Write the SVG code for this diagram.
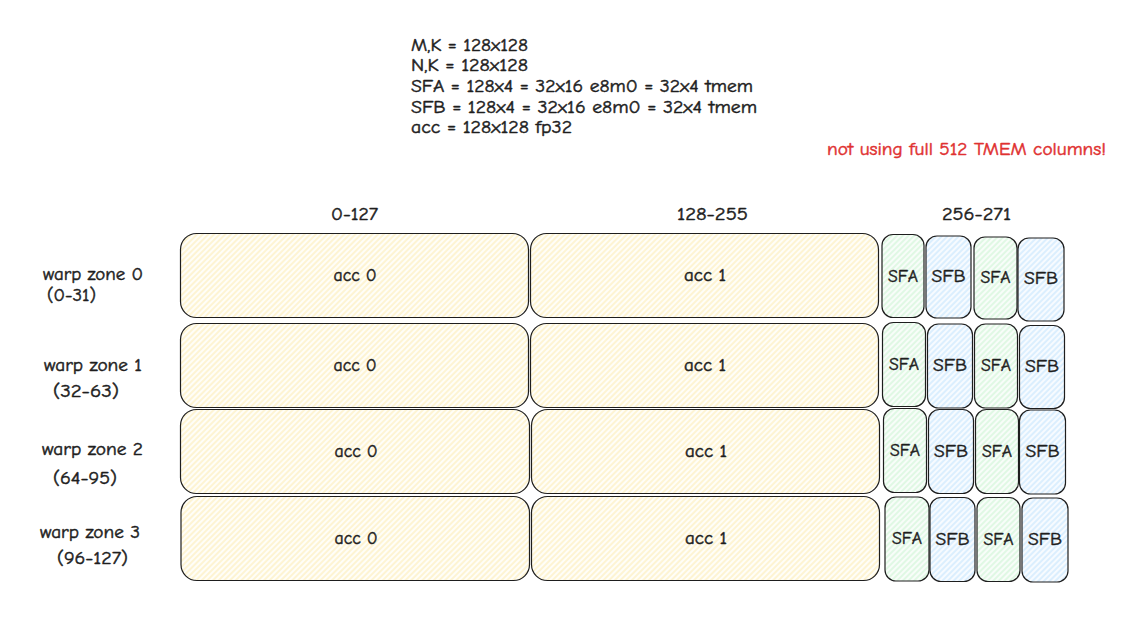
<svg xmlns="http://www.w3.org/2000/svg" width="1133" height="622" viewBox="0 0 1133 622">
<defs>
<pattern id="hy" patternUnits="userSpaceOnUse" width="4" height="4" patternTransform="rotate(45)">
<rect width="4" height="4" fill="#fffef8"/>
<line x1="1" y1="0" x2="1" y2="4" stroke="#fce9a6" stroke-width="0.9"/>
</pattern>
<pattern id="hg" patternUnits="userSpaceOnUse" width="4" height="4" patternTransform="rotate(45)">
<rect width="4" height="4" fill="#f8fdf9"/>
<line x1="1" y1="0" x2="1" y2="4" stroke="#c3f2ca" stroke-width="0.9"/>
</pattern>
<pattern id="hb" patternUnits="userSpaceOnUse" width="4" height="4" patternTransform="rotate(45)">
<rect width="4" height="4" fill="#f7fbff"/>
<line x1="1" y1="0" x2="1" y2="4" stroke="#b8dffd" stroke-width="0.9"/>
</pattern>
</defs>
<style>
text{font-family:"Comic Neue","Noto Sans","DejaVu Sans",sans-serif;fill:#1e1e1e;stroke:#1e1e1e;stroke-width:0.45}
.t{font-size:17px}
.c{font-size:17px;text-anchor:middle}
.s{font-size:18px;text-anchor:middle}
.red{fill:#e03131;stroke:#e03131;font-size:17px}
.acc{fill:url(#hy);stroke:#1e1e1e;stroke-width:1.2}
.sfa{fill:url(#hg);stroke:#1e1e1e;stroke-width:1.2}
.sfb{fill:url(#hb);stroke:#1e1e1e;stroke-width:1.2}
</style>
<rect width="1133" height="622" fill="#ffffff"/>

<g id="info">
<text class="t" x="411" y="51" textLength="117" lengthAdjust="spacingAndGlyphs">M,K = 128x128</text>
<text class="t" x="411" y="71" textLength="117" lengthAdjust="spacingAndGlyphs">N,K = 128x128</text>
<text class="t" x="411" y="92" textLength="342" lengthAdjust="spacingAndGlyphs">SFA = 128x4 = 32x16 e8m0 = 32x4 tmem</text>
<text class="t" x="411" y="113" textLength="346" lengthAdjust="spacingAndGlyphs">SFB = 128x4 = 32x16 e8m0 = 32x4 tmem</text>
<text class="t" x="411" y="133" textLength="161" lengthAdjust="spacingAndGlyphs">acc = 128x128 fp32</text>
</g>
<g id="note">
<text class="red" x="827" y="155" textLength="279" lengthAdjust="spacingAndGlyphs">not using full 512 TMEM columns!</text>
</g>

<g id="col-headers">
<text class="t" x="331" y="220" textLength="47" lengthAdjust="spacingAndGlyphs">0-127</text>
<text class="t" x="677" y="220" textLength="71" lengthAdjust="spacingAndGlyphs">128-255</text>
<text class="t" x="942" y="220" textLength="69" lengthAdjust="spacingAndGlyphs">256-271</text>
</g>

<g id="row-labels">
<text class="t" x="43" y="280" textLength="100" lengthAdjust="spacingAndGlyphs">warp zone 0</text>
<text class="t" x="47" y="301" textLength="49" lengthAdjust="spacingAndGlyphs">(0-31)</text>
<text class="t" x="44" y="371" textLength="98" lengthAdjust="spacingAndGlyphs">warp zone 1</text>
<text class="t" x="53" y="397" textLength="66" lengthAdjust="spacingAndGlyphs">(32-63)</text>
<text class="t" x="42" y="455" textLength="101" lengthAdjust="spacingAndGlyphs">warp zone 2</text>
<text class="t" x="53" y="484" textLength="64" lengthAdjust="spacingAndGlyphs">(64-95)</text>
<text class="t" x="40" y="538" textLength="100" lengthAdjust="spacingAndGlyphs">warp zone 3</text>
<text class="t" x="57" y="564" textLength="71" lengthAdjust="spacingAndGlyphs">(96-127)</text>
</g>

<!-- row 0 -->
<g id="r0-acc0"><rect class="acc" x="180.5" y="233.5" width="348" height="84" rx="16"/><text class="c" x="355" y="281" textLength="43" lengthAdjust="spacingAndGlyphs">acc 0</text></g>
<g id="r0-acc1"><rect class="acc" x="530.5" y="233.5" width="348" height="84" rx="16"/><text class="c" x="705" y="281" textLength="42" lengthAdjust="spacingAndGlyphs">acc 1</text></g>
<g id="r0-sfa0"><rect class="sfa" x="882" y="234.5" width="42" height="83" rx="11"/><text class="s" x="903" y="282" textLength="30" lengthAdjust="spacingAndGlyphs">SFA</text></g>
<g id="r0-sfb0"><rect class="sfb" x="926" y="236" width="45" height="82" rx="11"/><text class="s" x="948.5" y="282" textLength="34" lengthAdjust="spacingAndGlyphs">SFB</text></g>
<g id="r0-sfa1"><rect class="sfa" x="974" y="237" width="43" height="82" rx="11"/><text class="s" x="995.5" y="283" textLength="30" lengthAdjust="spacingAndGlyphs">SFA</text></g>
<g id="r0-sfb1"><rect class="sfb" x="1018" y="238" width="46" height="83" rx="11"/><text class="s" x="1041" y="284" textLength="34" lengthAdjust="spacingAndGlyphs">SFB</text></g>

<!-- row 1 -->
<g id="r1-acc0"><rect class="acc" x="180.5" y="323.5" width="348" height="84" rx="16"/><text class="c" x="355" y="371" textLength="43" lengthAdjust="spacingAndGlyphs">acc 0</text></g>
<g id="r1-acc1"><rect class="acc" x="530.5" y="323.5" width="348" height="84" rx="16"/><text class="c" x="705" y="371" textLength="42" lengthAdjust="spacingAndGlyphs">acc 1</text></g>
<g id="r1-sfa0"><rect class="sfa" x="882.5" y="322.5" width="43" height="84" rx="11"/><text class="s" x="904" y="370" textLength="30" lengthAdjust="spacingAndGlyphs">SFA</text></g>
<g id="r1-sfb0"><rect class="sfb" x="927.5" y="324" width="45" height="84" rx="11"/><text class="s" x="950" y="371" textLength="34" lengthAdjust="spacingAndGlyphs">SFB</text></g>
<g id="r1-sfa1"><rect class="sfa" x="974.5" y="324" width="43" height="84" rx="11"/><text class="s" x="996" y="371" textLength="30" lengthAdjust="spacingAndGlyphs">SFA</text></g>
<g id="r1-sfb1"><rect class="sfb" x="1019.5" y="325.5" width="45" height="83" rx="11"/><text class="s" x="1042" y="372" textLength="34" lengthAdjust="spacingAndGlyphs">SFB</text></g>

<!-- row 2 -->
<g id="r2-acc0"><rect class="acc" x="180.5" y="409.5" width="349" height="84" rx="16"/><text class="c" x="356" y="457" textLength="43" lengthAdjust="spacingAndGlyphs">acc 0</text></g>
<g id="r2-acc1"><rect class="acc" x="531.5" y="409.5" width="348" height="84" rx="16"/><text class="c" x="706" y="457" textLength="42" lengthAdjust="spacingAndGlyphs">acc 1</text></g>
<g id="r2-sfa0"><rect class="sfa" x="883.5" y="408.5" width="43" height="84" rx="11"/><text class="s" x="905" y="456" textLength="30" lengthAdjust="spacingAndGlyphs">SFA</text></g>
<g id="r2-sfb0"><rect class="sfb" x="928.5" y="409.5" width="45" height="84" rx="11"/><text class="s" x="951" y="457" textLength="34" lengthAdjust="spacingAndGlyphs">SFB</text></g>
<g id="r2-sfa1"><rect class="sfa" x="975.5" y="409.5" width="43" height="84" rx="11"/><text class="s" x="997" y="457" textLength="30" lengthAdjust="spacingAndGlyphs">SFA</text></g>
<g id="r2-sfb1"><rect class="sfb" x="1019.5" y="410" width="46" height="84" rx="11"/><text class="s" x="1042.5" y="457" textLength="34" lengthAdjust="spacingAndGlyphs">SFB</text></g>

<!-- row 3 -->
<g id="r3-acc0"><rect class="acc" x="181" y="496.5" width="348.5" height="84" rx="16"/><text class="c" x="356" y="544" textLength="43" lengthAdjust="spacingAndGlyphs">acc 0</text></g>
<g id="r3-acc1"><rect class="acc" x="531.5" y="496.5" width="348" height="84" rx="16"/><text class="c" x="706" y="544" textLength="42" lengthAdjust="spacingAndGlyphs">acc 1</text></g>
<g id="r3-sfa0"><rect class="sfa" x="885" y="497" width="44" height="84" rx="11"/><text class="s" x="907" y="544" textLength="30" lengthAdjust="spacingAndGlyphs">SFA</text></g>
<g id="r3-sfb0"><rect class="sfb" x="930" y="497.5" width="45" height="84" rx="11"/><text class="s" x="952.5" y="545" textLength="34" lengthAdjust="spacingAndGlyphs">SFB</text></g>
<g id="r3-sfa1"><rect class="sfa" x="977" y="497.5" width="43" height="84" rx="11"/><text class="s" x="998.5" y="545" textLength="30" lengthAdjust="spacingAndGlyphs">SFA</text></g>
<g id="r3-sfb1"><rect class="sfb" x="1022" y="498" width="46" height="84" rx="11"/><text class="s" x="1045" y="545" textLength="34" lengthAdjust="spacingAndGlyphs">SFB</text></g>
</svg>
